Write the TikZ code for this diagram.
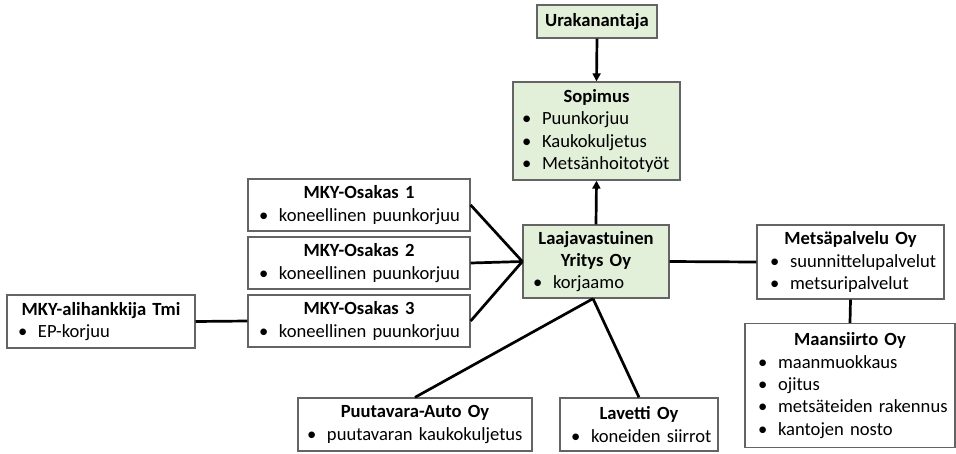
\documentclass[tikz,border=0pt]{standalone}
\usepackage{fontspec}
\setmainfont{Carlito}
\usetikzlibrary{arrows.meta}
\definecolor{boxgreen}{RGB}{226,239,217}
\definecolor{boxline}{RGB}{100,100,100}
\newcommand{\bitem}[1]{\mbox{\hspace{3pt}\makebox[20pt][l]{\textbullet}#1}}
\newcommand{\btitle}[1]{\makebox[\linewidth][c]{\bfseries #1}}
\begin{document}
\begin{tikzpicture}[x=1pt,y=-1pt,
  every node/.style={font=\fontsize{18.6}{22.4}\selectfont},
  box/.style={draw=boxline,line width=1.3pt,fill=white,inner xsep=0pt,inner ysep=0pt,align=left},
  gbox/.style={box,fill=boxgreen},
  conn/.style={line width=2.7pt,black},
  arr/.style={conn,-{Triangle[length=8pt,width=8pt]}}]
\useasboundingbox (0,0) rectangle (956,453);
% boxes
\node[gbox,minimum width=120pt,minimum height=33pt,align=center] (ura) at (597,21.5) {\bfseries Urakanantaja};
\node[gbox,minimum width=167pt,minimum height=98pt,text width=155pt] (sop) at (596.5,131)
  {\btitle{Sopimus}\\\bitem{Puunkorjuu}\\\bitem{Kaukokuljetus}\\\bitem{Metsänhoitotyöt}};
\node[gbox,minimum width=146pt,minimum height=73pt,text width=132pt] (laaja) at (596,261.5)
  {\btitle{Laajavastuinen}\\\btitle{Yritys Oy}\\\bitem{korjaamo}};
\node[box,minimum width=222pt,minimum height=52pt,text width=206pt] (o1) at (359,205)
  {\btitle{MKY-Osakas 1}\\\bitem{koneellinen puunkorjuu}};
\node[box,minimum width=222pt,minimum height=52pt,text width=206pt] (o2) at (359,263)
  {\btitle{MKY-Osakas 2}\\\bitem{koneellinen puunkorjuu}};
\node[box,minimum width=222pt,minimum height=52pt,text width=206pt] (o3) at (359,321)
  {\btitle{MKY-Osakas 3}\\\bitem{koneellinen puunkorjuu}};
\node[box,minimum width=188pt,minimum height=53pt,text width=172pt] (ali) at (101,321.5)
  {\btitle{MKY-alihankkija Tmi}\\\bitem{EP-korjuu}};
\node[box,minimum width=187pt,minimum height=74pt,text width=167pt] (met) at (850.5,262)
  {\btitle{Metsäpalvelu Oy}\\\bitem{suunnittelupalvelut}\\\bitem{metsuripalvelut}};
\node[box,minimum width=210pt,minimum height=124pt,text width=190pt] (maa) at (850,385.5)
  {\btitle{Maansiirto Oy}\\\bitem{maanmuokkaus}\\\bitem{ojitus}\\\bitem{metsäteiden rakennus}\\\bitem{kantojen nosto}};
\node[box,minimum width=234pt,minimum height=53pt,text width=222pt] (puu) at (415,424.5)
  {\btitle{Puutavara-Auto Oy}\\\bitem{puutavaran kaukokuljetus}};
\node[box,minimum width=158pt,minimum height=53pt,text width=142pt] (lav) at (639,424.5)
  {\btitle{Lavetti Oy}\\\bitem{koneiden siirrot}};
% connectors
\draw[arr] (ura.south) -- (sop.north);
\draw[arr] (laaja.north) -- (sop.south);
\draw[conn] (o1.east) -- (laaja.west);
\draw[conn] (o2.east) -- (laaja.west);
\draw[conn] (o3.east) -- (laaja.west);
\draw[conn] (ali.east) -- (o3.west);
\draw[conn] (laaja.east) -- (met.west);
\draw[conn] (met.south) -- (maa.north);
\draw[conn] ([xshift=-3pt]laaja.south) -- (puu.north);
\draw[conn] ([xshift=-3pt]laaja.south) -- (lav.north);
\end{tikzpicture}
\end{document}
